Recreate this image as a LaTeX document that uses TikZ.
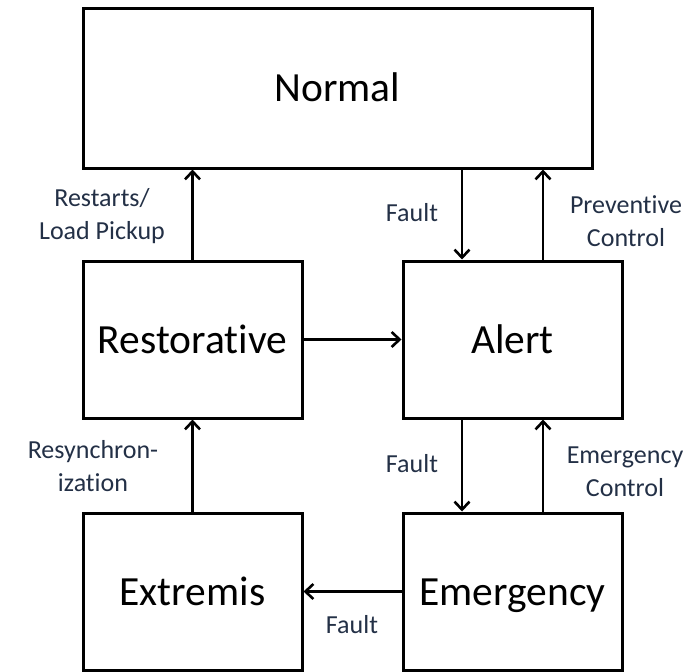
\documentclass[tikz,border=0pt]{standalone}
\usepackage{fontspec}
\setmainfont{Carlito}[Ligatures={NoCommon}]
\usetikzlibrary{arrows.meta,calc}
\definecolor{labelink}{HTML}{233046}
\begin{document}
\begin{tikzpicture}[x=1pt,y=-1pt,
  statebox/.style={draw=black,line width=3pt,rectangle,inner sep=0pt,
    minimum width=219pt,minimum height=157pt,text height=28pt,text depth=1pt,
    font=\fontsize{41.5}{45}\selectfont},
  arr/.style={line width=2.8pt,-{Straight Barb[length=8pt,width=15pt,line width=2.6pt]}},
  lbl/.style={text=labelink,font=\fontsize{26}{33}\selectfont,align=center,inner sep=0pt}]
  \useasboundingbox (0,0) rectangle (700,671);
  \clip (0,0) rectangle (700,671);

  % states
  \node[statebox,minimum width=509pt,minimum height=159pt] (normal) at (337.5,88.5) {Normal};
  \node[statebox] (rest) at (192.5,339.5) {Restorative};
  \node[statebox] (alert) at (512.5,339.5) {Alert};
  \node[statebox] (extr) at (192.5,591.5) {Extremis};
  \node[statebox] (emer) at (512.5,591.5) {Emergency};

  % transitions
  \draw[arr] (rest.north) -- (rest.north |- normal.south);
  \coordinate (fa) at ($(alert.north)+(-50.5,0)$);
  \coordinate (pa) at ($(alert.north)+(30.5,0)$);
  \draw[arr] (fa |- normal.south) -- (fa);
  \draw[arr] (pa) -- (pa |- normal.south);
  \draw[arr] (rest.east) -- (alert.west);
  \coordinate (fb) at ($(emer.north)+(-50.5,0)$);
  \coordinate (pb) at ($(emer.north)+(30.5,0)$);
  \draw[arr] (fb |- alert.south) -- (fb);
  \draw[arr] (pb) -- (pb |- alert.south);
  \draw[arr] (extr.north) -- (rest.south);
  \draw[arr] (emer.west) -- (extr.east);

  % transition labels
  \node[lbl] (l1) at (102,216) {Restarts/\\Load Pickup};
  \node[lbl] (l2) at (412,213) {Fault};
  \node[lbl] (l3) at (626,221) {Preventive\\Control};
  \node[lbl] (l4) at (93,466) {Resynchron-\\ization};
  \node[lbl] (l5) at (412,464) {Fault};
  \node[lbl] (l6) at (625,472) {Emergency\\Control};
  \node[lbl] (l7) at (352,625) {Fault};
\end{tikzpicture}
\end{document}
